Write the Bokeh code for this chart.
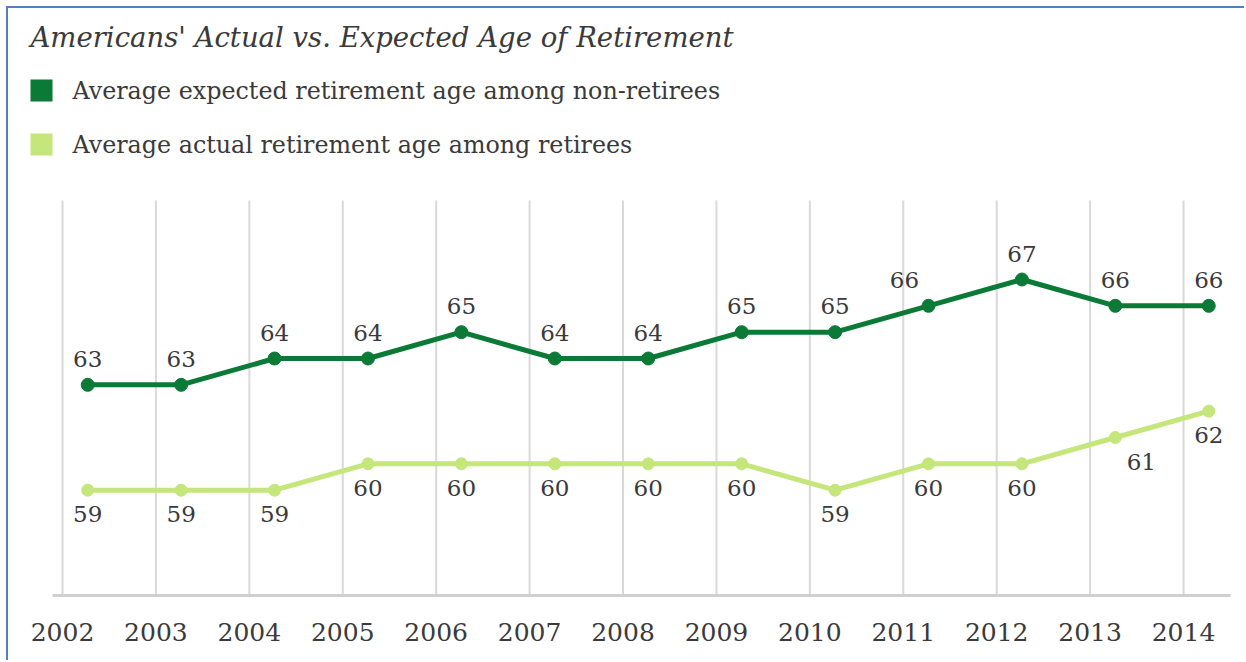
import numpy as np
from bokeh.plotting import figure
from bokeh.models import ColumnDataSource, Range1d, FixedTicker
from bokeh.core.properties import value
from bokeh.embed import file_html
from bokeh.resources import INLINE

# ---------------- data ----------------
years = [2002, 2003, 2004, 2005, 2006, 2007, 2008, 2009, 2010, 2011, 2012, 2013, 2014]
expected_age = [63, 63, 64, 64, 65, 64, 64, 65, 65, 66, 67, 66, 66]
actual_age = [59, 59, 59, 60, 60, 60, 60, 60, 59, 60, 60, 61, 62]
series_names = ["Average expected retirement age among non-retirees",
                "Average actual retirement age among retirees"]
title_text = "Americans' Actual vs. Expected Age of Retirement"
SURVEY_FRACTION = 0.27  # surveys fielded in spring of each year
Y_MIN, Y_MAX = 55, 70   # value span of the chart area

# ---------------- style ----------------
DARK = "#0a7a36"
LIGHT = "#c5e67a"
TEXT = "#3a3a3a"
FONT = "DejaVu Serif"
BORDER = "#4f81bd"

# label pixel nudges (style only)
exp_dx = [0, 0, 0, 0, 0, 0, 0, 0, 0, -24, 0, 0, 0]
act_dx = [0, 0, 0, 0, 0, 0, 0, 0, 0, 0, 0, 26, 0]

# ---------------- geometry (page pixels) ----------------
X0, Y0 = 8, 8                 # content origin on page (margin + border)
W, H = 1238, 654              # figure size
FRAME_BOTTOM = 598            # page y of frame bottom
PX_PER_YEAR = 93.42
PX_PER_UNIT = 26.333
FIRST_GRID_PX = 62            # page x of first year gridline
BASE_PX = 595                 # page y of value Y_MIN

x_start = years[0] - (FIRST_GRID_PX - X0) / PX_PER_YEAR
x_end = x_start + W / PX_PER_YEAR
y_start = Y_MIN - (FRAME_BOTTOM - BASE_PX) / PX_PER_UNIT
y_end = Y_MIN + (BASE_PX - Y0) / PX_PER_UNIT


def px2x(px):
    return x_start + (px - X0) / PX_PER_YEAR


def px2y(py):
    return Y_MIN + (BASE_PX - py) / PX_PER_UNIT


p = figure(width=W, height=H, output_backend="svg", toolbar_location=None,
           y_axis_location=None,
           x_range=Range1d(x_start, x_end), y_range=Range1d(y_start, y_end),
           outline_line_color=None, min_border=0)
p.min_border_left = 0
p.min_border_right = 0
p.min_border_top = 0
p.min_border_bottom = H - (FRAME_BOTTOM - Y0)
p.styles = {"border-left": "2px solid " + BORDER,
            "border-top": "2px solid " + BORDER,
            "margin-left": "6px", "margin-top": "6px"}

p.grid.visible = False
p.xaxis.ticker = FixedTicker(ticks=years)
p.xaxis.axis_line_color = None
p.xaxis.major_tick_line_color = None
p.xaxis.minor_tick_line_color = None
p.xaxis.major_tick_out = 0
p.xaxis.major_tick_in = 0
p.xaxis.major_label_standoff = 24
p.xaxis.major_label_text_font = FONT
p.xaxis.major_label_text_font_size = "25px"
p.xaxis.major_label_text_color = TEXT

# vertical gridlines at each year and baseline
p.segment(x0=years, y0=[Y_MIN] * len(years), x1=years, y1=[Y_MAX] * len(years),
          line_color="#d9d9d9", line_width=2)
p.segment(x0=[px2x(52)], y0=[Y_MIN], x1=[px2x(1230)], y1=[Y_MIN],
          line_color="#d0d0d0", line_width=3)

# ---------------- header: title + legend ----------------
p.text(x=[px2x(30)], y=[px2y(36)], text=[title_text], text_font=value(FONT),
       text_font_style="italic", text_font_size="27.5px", text_color=TEXT,
       text_align="left", text_baseline="middle")
p.scatter(x=[px2x(41)] * 2, y=[px2y(90), px2y(144)], marker="square", size=22,
          fill_color=[DARK, LIGHT], line_color=None)
p.text(x=[px2x(72)] * 2, y=[px2y(90), px2y(144)], text=series_names,
       text_font=value(FONT), text_font_size="23.8px", text_color=TEXT,
       text_align="left", text_baseline="middle")

# ---------------- series ----------------
xs = [y + SURVEY_FRACTION for y in years]
src = ColumnDataSource(dict(x=xs, exp=expected_age, act=actual_age,
                            exp_lbl=[str(v) for v in expected_age],
                            act_lbl=[str(v) for v in actual_age],
                            exp_dx=exp_dx, act_dx=act_dx))

p.line("x", "exp", source=src, line_color=DARK, line_width=5)
p.scatter("x", "exp", source=src, size=13, fill_color=DARK, line_color=DARK)
p.line("x", "act", source=src, line_color=LIGHT, line_width=5)
p.scatter("x", "act", source=src, size=12, fill_color=LIGHT, line_color=LIGHT)

p.text("x", "exp", text="exp_lbl", source=src, x_offset="exp_dx", y_offset=-26,
       text_font=value(FONT), text_font_size="23px", text_color=TEXT,
       text_align="center", text_baseline="middle")
p.text("x", "act", text="act_lbl", source=src, x_offset="act_dx", y_offset=24,
       text_font=value(FONT), text_font_size="23px", text_color=TEXT,
       text_align="center", text_baseline="middle")

open("out.html", "w").write(file_html(p, INLINE))
